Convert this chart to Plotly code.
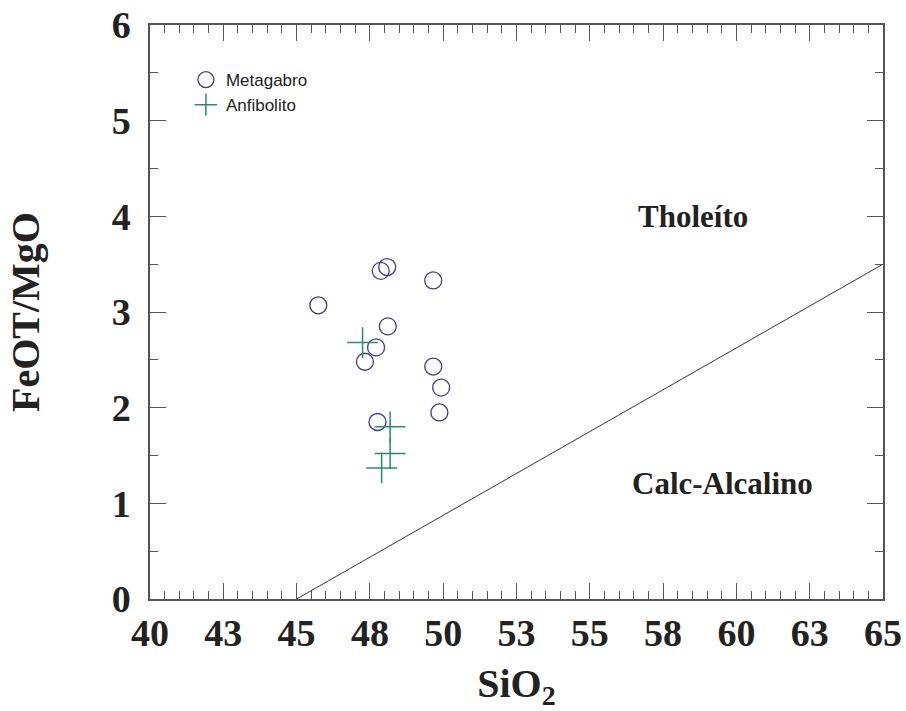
import plotly.graph_objects as go

# Data
meta_x = [45.74, 47.87, 48.09, 49.66, 48.11, 47.71, 47.33, 49.66, 49.93, 49.87, 47.76]
meta_y = [3.07, 3.43, 3.47, 3.33, 2.85, 2.63, 2.48, 2.43, 2.21, 1.95, 1.85]
anf_x = [47.25, 48.19, 48.19, 47.90]
anf_y = [2.68, 1.80, 1.52, 1.37]
boundary_x = [45, 65]
boundary_y = [0, 3.5]
x_tickvals = [40, 42.5, 45, 47.5, 50, 52.5, 55, 57.5, 60, 62.5, 65]
x_ticktext = ["40", "43", "45", "48", "50", "53", "55", "58", "60", "63", "65"]
y_tickvals = [0, 1, 2, 3, 4, 5, 6]
y_ticktext = ["0", "1", "2", "3", "4", "5", "6"]

serif = "Liberation Serif, Times New Roman, serif"
sans = "Liberation Sans, Arial, sans-serif"

fig = go.Figure()
fig.add_trace(go.Scatter(
    x=boundary_x, y=boundary_y, mode="lines",
    line=dict(color="#333333", width=1), showlegend=False, hoverinfo="skip"))
fig.add_trace(go.Scatter(
    x=meta_x, y=meta_y, mode="markers", name="Metagabro",
    marker=dict(symbol="circle-open", size=17, color="#3c3c85",
                line=dict(width=1.3, color="#3c3c85"))))
fig.add_trace(go.Scatter(
    x=anf_x, y=anf_y, mode="markers", name="Anfibolito",
    marker=dict(symbol="cross-thin-open", size=22, color="#2a8a72",
                line=dict(width=1.5, color="#2a8a72"))))

fig.add_annotation(x=58.52, y=4.0, text="<b>Tholeíto</b>", showarrow=False,
                   font=dict(family=serif, size=31, color="#222222"))
fig.add_annotation(x=59.54, y=1.21, text="<b>Calc-Alcalino</b>", showarrow=False,
                   font=dict(family=serif, size=31, color="#222222"))

axis_common = dict(
    showline=True, linecolor="#555555", linewidth=1.5, mirror="ticks",
    ticks="inside", ticklen=16, tickwidth=1.2, tickcolor="#555555",
    showgrid=False, zeroline=False, automargin=False,
    tickfont=dict(family=serif, size=38, color="#222222", weight="bold"),
)

fig.update_xaxes(
    range=[40, 65], tickmode="array", tickvals=x_tickvals, ticktext=x_ticktext,
    minor=dict(ticks="inside", ticklen=8, tickcolor="#555555", tickwidth=1, dtick=0.5, tick0=40),
    title=dict(text="<b>SiO<sub>2</sub></b>", font=dict(family=serif, size=40, color="#222222"), standoff=24),
    ticklabelstandoff=0,
    **axis_common)
fig.update_yaxes(
    range=[0, 6], tickmode="array", tickvals=y_tickvals, ticktext=y_ticktext,
    minor=dict(ticks="inside", ticklen=8, tickcolor="#555555", tickwidth=1, dtick=0.5, tick0=0),
    title=dict(text="<b>FeOT/MgO</b>", font=dict(family=serif, size=40, color="#222222"), standoff=60),
    ticklabelstandoff=10,
    **axis_common)

fig.update_layout(
    width=906, height=711,
    margin=dict(l=150, r=23, t=25, b=112),
    paper_bgcolor="white", plot_bgcolor="white",
    showlegend=True,
    legend=dict(x=0.049, y=0.9355, xanchor="left", yanchor="top",
                bgcolor="rgba(0,0,0,0)", borderwidth=0,
                font=dict(family=sans, size=17, color="#222222"),
                tracegroupgap=0, itemwidth=30),
)

fig.write_html("out.html", config={"displayModeBar": False},
               post_script="document.body.style.margin='0';document.body.style.overflow='hidden';")
